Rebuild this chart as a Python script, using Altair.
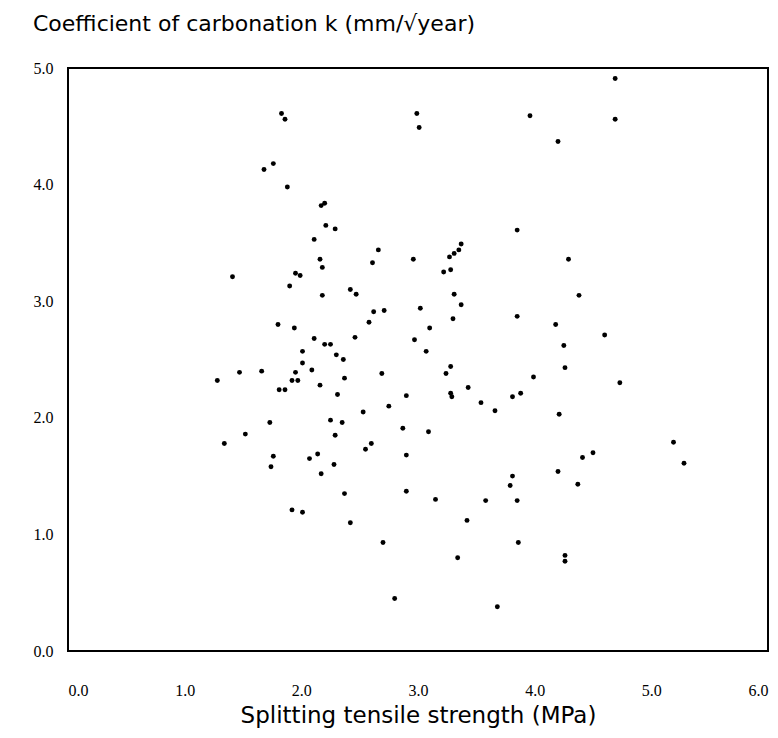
import altair as alt
import pandas as pd

strength = [1.83, 1.86, 1.76, 1.68, 1.88, 2.20, 2.17, 2.21, 2.29, 2.11, 2.66, 2.16,
            4.69, 2.99, 3.01, 3.96, 4.69, 4.20, 3.85, 3.37, 3.35, 3.31, 3.27, 4.29,
            2.96, 2.18, 2.61, 1.41, 1.95, 1.99, 1.90, 2.18, 2.42, 2.47, 2.62, 2.58,
            1.80, 1.94, 2.11, 2.46, 2.20, 2.25, 2.01, 2.30, 2.36, 2.01, 2.09, 1.47,
            1.66, 1.95, 1.28, 1.92, 1.97, 2.37, 2.16, 1.81, 1.86, 2.31, 2.53, 1.73,
            2.25, 2.35, 1.52, 2.29, 1.34, 2.55, 2.60, 1.76, 1.74, 2.07, 2.14, 2.28,
            2.17, 2.37, 1.92, 2.01, 2.42, 3.22, 3.28, 3.31, 3.37, 2.71, 3.02, 3.30,
            3.10, 2.97, 3.07, 3.85, 4.18, 4.25, 4.26, 2.69, 3.28, 3.24, 3.43, 3.28,
            3.29, 2.90, 2.75, 3.54, 3.66, 3.81, 3.88, 3.99, 4.21, 2.87, 3.09, 4.38,
            4.60, 4.73, 2.90, 2.90, 3.15, 3.58, 3.85, 3.81, 3.79, 4.20, 3.42, 2.70,
            3.34, 3.86, 4.26, 4.26, 2.80, 3.68, 4.41, 4.50, 4.37, 5.19, 5.28]

carbonation = [4.61, 4.56, 4.18, 4.13, 3.98, 3.84, 3.82, 3.65, 3.62, 3.53, 3.44, 3.36,
               4.91, 4.61, 4.49, 4.59, 4.56, 4.37, 3.61, 3.49, 3.44, 3.41, 3.38, 3.36,
               3.36, 3.29, 3.33, 3.21, 3.24, 3.22, 3.13, 3.05, 3.10, 3.06, 2.91, 2.82,
               2.80, 2.77, 2.68, 2.69, 2.63, 2.63, 2.57, 2.54, 2.50, 2.47, 2.41, 2.39,
               2.40, 2.39, 2.32, 2.32, 2.32, 2.34, 2.28, 2.24, 2.24, 2.20, 2.05, 1.96,
               1.98, 1.96, 1.86, 1.85, 1.78, 1.73, 1.78, 1.67, 1.58, 1.65, 1.69, 1.60,
               1.52, 1.35, 1.21, 1.19, 1.10, 3.25, 3.27, 3.06, 2.97, 2.92, 2.94, 2.85,
               2.77, 2.67, 2.57, 2.87, 2.80, 2.62, 2.43, 2.38, 2.44, 2.38, 2.26, 2.21,
               2.18, 2.19, 2.10, 2.13, 2.06, 2.18, 2.21, 2.35, 2.03, 1.91, 1.88, 3.05,
               2.71, 2.30, 1.68, 1.37, 1.30, 1.29, 1.29, 1.50, 1.42, 1.54, 1.12, 0.93,
               0.80, 0.93, 0.82, 0.77, 0.45, 0.38, 1.66, 1.70, 1.43, 1.79, 1.61]

x_ticks = [0, 1, 2, 3, 4, 5, 6]
y_ticks = [0, 1, 2, 3, 4, 5]

df = pd.DataFrame({"strength": strength, "k": carbonation})

chart = (
    alt.Chart(df)
    .mark_circle(color="black", opacity=1, size=24)
    .encode(
        x=alt.X(
            "strength:Q",
            scale=alt.Scale(domain=[0, 6], nice=False, zero=False),
            axis=alt.Axis(
                values=x_ticks,
                format=".1f",
                title="Splitting tensile strength (MPa)",
                grid=False,
                ticks=False,
                domain=False,
                labelFont="Liberation Serif",
                labelFontSize=16,
                labelColor="black",
                labelPadding=31,
                titleFont="DejaVu Sans",
                titleFontSize=23,
                titleFontWeight="normal",
                titleColor="black",
                titlePadding=6,
            ),
        ),
        y=alt.Y(
            "k:Q",
            scale=alt.Scale(domain=[0, 5], nice=False, zero=False),
            axis=alt.Axis(
                values=y_ticks,
                format=".1f",
                title=None,
                grid=False,
                ticks=False,
                domain=False,
                labelFont="Liberation Serif",
                labelFontSize=16,
                labelColor="black",
                labelPadding=15,
            ),
        ),
    )
    .properties(
        width=700,
        height=583,
        title=alt.TitleParams(
            "Coefficient of carbonation k (mm/√year)",
            anchor="start",
            frame="group",
            font="DejaVu Sans",
            fontSize=22,
            fontWeight="normal",
            color="black",
            baseline="alphabetic",
            offset=7,
            dx=-35,
        ),
        autosize=alt.AutoSizeParams(type="none"),
        padding={"left": 60, "top": 60, "right": 2, "bottom": 79},
    )
    .configure_view(stroke="black", strokeWidth=2)
)

chart.save("out.html", embed_options={"renderer": "svg", "actions": False})
